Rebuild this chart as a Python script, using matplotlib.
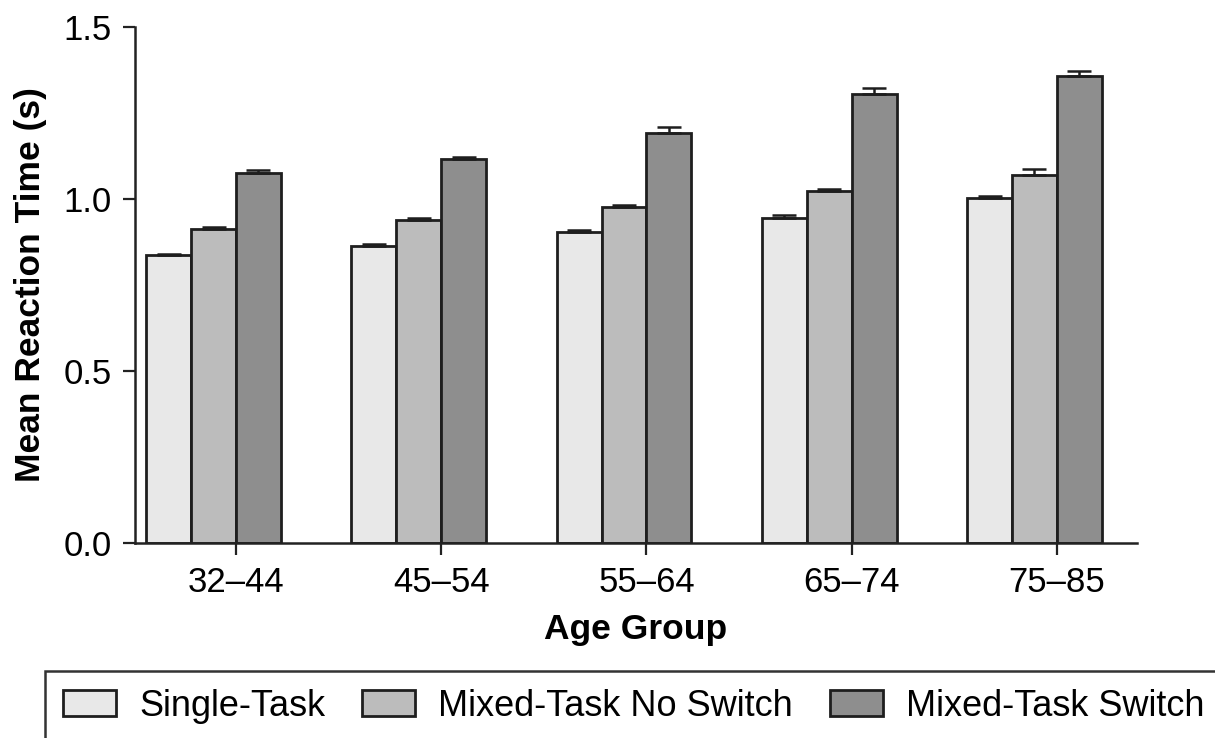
import numpy as np
import matplotlib
matplotlib.use("Agg")
import matplotlib.pyplot as plt
from matplotlib.patches import Rectangle

plt.rcParams['font.family'] = ['Liberation Sans', 'DejaVu Sans']

# 各年龄组平均反应时间（秒）及标准误
groups = ['32–44', '45–54', '55–64', '65–74', '75–85']
single = [0.836, 0.863, 0.904, 0.946, 1.004]
single_err = [0.005, 0.006, 0.006, 0.007, 0.006]
no_switch = [0.914, 0.939, 0.978, 1.022, 1.071]
no_switch_err = [0.005, 0.005, 0.006, 0.006, 0.017]
switch = [1.077, 1.116, 1.193, 1.305, 1.358]
switch_err = [0.008, 0.006, 0.017, 0.017, 0.015]

names = ['Single-Task', 'Mixed-Task No Switch', 'Mixed-Task Switch']
colors = ['#e8e8e8', '#bcbcbc', '#8e8e8e']

fig = plt.figure(figsize=(12.15, 7.38), dpi=100)
ax = fig.add_axes([135 / 1215, 1 - 543 / 738, (1137 - 135) / 1215, (543 - 27) / 738])

x = np.arange(len(groups))
w = 0.219
series = [(single, single_err), (no_switch, no_switch_err), (switch, switch_err)]
offsets = [-1.5 * w, -0.5 * w, 0.5 * w]
for (vals, errs), off, c, n in zip(series, offsets, colors, names):
    # 只画向上的误差线
    ax.bar(x + off, vals, w, color=c, edgecolor='#1e1e1e', linewidth=2.0, label=n,
           yerr=[np.zeros(len(errs)), errs], capsize=8.5,
           error_kw=dict(ecolor='#1e1e1e', elinewidth=1.8, capthick=1.8))

ax.set_xlim(-0.492, 4.39)
ax.set_ylim(0, 1.5)
ax.set_yticks([0.0, 0.5, 1.0, 1.5])
ax.set_yticklabels(['0.0', '0.5', '1.0', '1.5'])
ax.set_xticks(x)
ax.set_xticklabels(groups)
ax.tick_params(axis='both', labelsize=25, length=8.6, width=1.6, color='#222222', pad=8)
for s in ['top', 'right']:
    ax.spines[s].set_visible(False)
for s in ['left', 'bottom']:
    ax.spines[s].set_linewidth(1.8)
    ax.spines[s].set_color('#222222')

ax.set_ylabel('Mean Reaction Time (s)', fontsize=25.5, fontweight='bold', labelpad=12)
ax.set_xlabel('Age Group', fontsize=25.5, fontweight='bold', labelpad=10)

# 图例外框（右侧和底部超出画布）
fig.patches.append(Rectangle((45 / 1215, -0.05), 1.2, 1 - 671 / 738 + 0.05,
                             transform=fig.transFigure, fill=False,
                             edgecolor='#333333', linewidth=1.8))
leg = fig.legend(loc='center left', bbox_to_anchor=(63 / 1215, 1 - 706 / 738), ncol=3,
                 fontsize=26, handlelength=1.47, handleheight=0.75, handletextpad=0.64,
                 columnspacing=1.02, borderpad=0, borderaxespad=0, frameon=False)

fig.savefig('out.png', dpi=100)
